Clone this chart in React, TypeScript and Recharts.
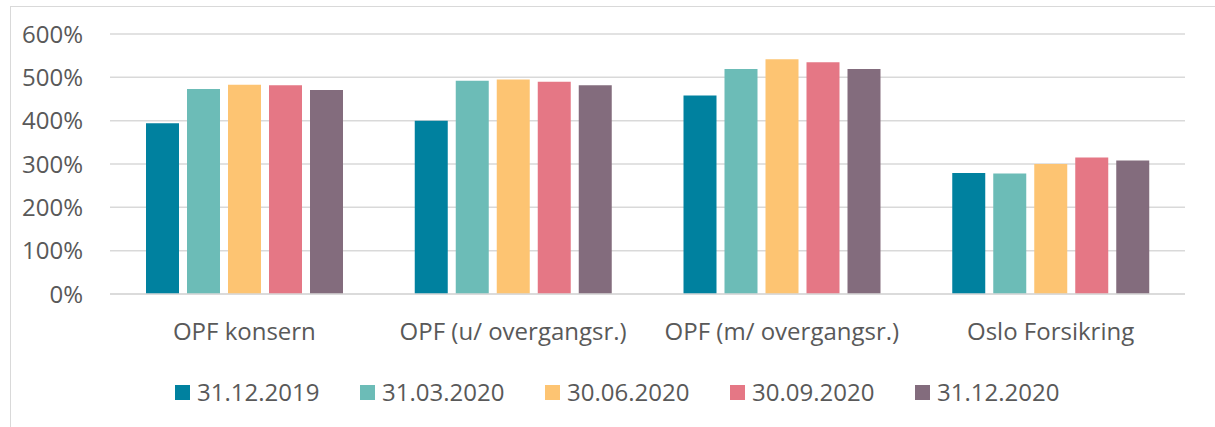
import React from 'react';
import { BarChart, Bar, XAxis, YAxis, CartesianGrid, Legend } from 'recharts';

const categories = ['OPF konsern', 'OPF (u/ overgangsr.)', 'OPF (m/ overgangsr.)', 'Oslo Forsikring'];
const seriesNames = ['31.12.2019', '31.03.2020', '30.06.2020', '30.09.2020', '31.12.2020'];
const s20191231 = [394, 400, 458, 279];
const s20200331 = [473, 492, 519, 278];
const s20200630 = [483, 495, 542, 300];
const s20200930 = [482, 490, 535, 315];
const s20201231 = [471, 482, 519, 308];
const yTicks = [0, 100, 200, 300, 400, 500, 600];

const seriesValues = [s20191231, s20200331, s20200630, s20200930, s20201231];
const colors = ['#00819F', '#6CBCB7', '#FDC472', '#E57785', '#836C7D'];
const keys = ['s0', 's1', 's2', 's3', 's4'];

const data = categories.map((name, i) => {
  const row: any = { name };
  keys.forEach((k, j) => {
    row[k] = seriesValues[j][i];
  });
  return row;
});

const FONT = "'Open Sans', sans-serif";
const TEXT = '#595959';

const LegendContent = () => {
  return (
    <div style={{ height: 50, position: 'relative', fontFamily: FONT }}>
      {seriesNames.map((name, i) => (
        <div
          key={name}
          style={{
            position: 'absolute',
            left: 175 + i * 185,
            top: 0,
            height: 30,
            display: 'flex',
            alignItems: 'center',
            whiteSpace: 'nowrap',
          }}
        >
          <div style={{ width: 15, height: 15, background: colors[i], marginRight: 7 }} />
          <span style={{ fontSize: 24, color: TEXT, lineHeight: '30px' }}>{name}</span>
        </div>
      ))}
    </div>
  );
};

export default function App() {
  return (
    <div style={{ position: 'absolute', left: 0, top: 0, width: 1215, height: 427, background: '#fff', overflow: 'hidden' }}>
      <div
        style={{
          position: 'absolute',
          left: 10,
          top: 6,
          width: 1300,
          height: 500,
          borderTop: '1.5px solid #D9D9D9',
          borderLeft: '1.5px solid #D9D9D9',
          boxSizing: 'border-box',
        }}
      />
      <div style={{ position: 'absolute', left: 0, top: 0 }}>
        <BarChart
          width={1215}
          height={427}
          data={data}
          margin={{ top: 34, right: 30, left: 0, bottom: 0 }}
          barGap={8}
          barSize={33}
        >
          <CartesianGrid vertical={false} stroke="#D9D9D9" strokeWidth={1.5} />
          <XAxis
            dataKey="name"
            height={83}
            tickLine={false}
            tickSize={0}
            tickMargin={29}
            axisLine={{ stroke: '#D9D9D9', strokeWidth: 1.5 }}
            tick={{ fill: TEXT, fontSize: 24, fontFamily: FONT }}
            interval={0}
          />
          <YAxis
            width={110}
            domain={[0, 600]}
            ticks={yTicks}
            tickFormatter={(v: number) => `${v}%`}
            axisLine={false}
            tickLine={false}
            tickSize={0}
            tickMargin={27}
            tick={{ fill: TEXT, fontSize: 24, fontFamily: FONT }}
          />
          <Legend
            verticalAlign="bottom"
            content={<LegendContent />}
            wrapperStyle={{ left: 0, width: 1215, top: 377, bottom: 'auto' }}
          />
          {keys.map((k, j) => (
            <Bar key={k} dataKey={k} name={seriesNames[j]} fill={colors[j]} isAnimationActive={false} />
          ))}
        </BarChart>
      </div>
    </div>
  );
}
